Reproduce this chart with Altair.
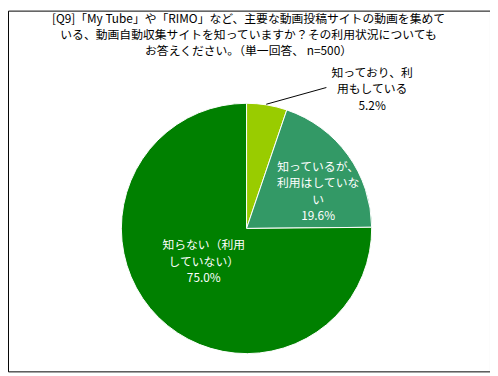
import altair as alt
import pandas as pd

FONT = "Noto Sans CJK JP"

title_lines = [
    "[Q9]「My Tube」や「RIMO」など、主要な動画投稿サイトの動画を集めて",
    "いる、動画自動収集サイトを知っていますか？その利用状況についても",
    "お答えください。（単一回答、 n=500）",
]
categories = [
    "知っており、利用もしている",
    "知っているが、利用はしていない",
    "知らない（利用していない）",
]
values = [5.2, 19.6, 75.0]
label_names = [
    ["知っており、利", "用もしている"],
    ["知っているが、", "利用はしていな", "い"],
    ["知らない（利用", "していない）"],
]
colors = ["#99CC00", "#339966", "#008000"]

labels = ["\n".join(n + [f"{v:.1f}%"]) for n, v in zip(label_names, values)]
df = pd.DataFrame({
    "category": categories,
    "value": values,
    "idx": list(range(len(categories))),
    "label": labels,
})

CX, CY, R = 242, 221, 127
LH = 16.5

base = alt.Chart(df).encode(
    theta=alt.Theta("value:Q", stack=True),
    order=alt.Order("idx:Q"),
)

pie = base.mark_arc(radius=R, stroke="white", strokeWidth=1).encode(
    color=alt.Color("category:N", scale=alt.Scale(domain=categories, range=colors), legend=None),
    x=alt.value(CX),
    y=alt.value(CY),
)


def label_layer(i, radius, dx, dy, color):
    nlines = len(label_names[i]) + 1
    return base.mark_text(
        radius=radius, dx=dx, dy=dy - (nlines - 1) * LH / 2, font=FONT, fontSize=12,
        lineBreak="\n", lineHeight=LH, color=color, align="center", baseline="middle",
    ).encode(
        text=alt.condition(alt.datum.idx == i, alt.Text("label:N"), alt.value("")),
        x=alt.value(CX),
        y=alt.value(CY),
    )


lab1 = label_layer(0, 150, 103, 7, "black")
lab2 = label_layer(1, 81, 7, 10, "white")
lab3 = label_layer(2, 56, -4, -6, "white")

one = pd.DataFrame({"a": [0]})
leader = alt.Chart(one).mark_rule(color="black", strokeWidth=1).encode(
    x=alt.value(CX + 20), y=alt.value(95), x2=alt.value(CX + 81), y2=alt.value(78)
)

title = alt.Chart(pd.DataFrame({"t": ["\n".join(title_lines)]})).mark_text(
    font=FONT, fontSize=12, lineBreak="\n", lineHeight=16, color="black",
    align="center", baseline="top",
).encode(text="t:N", x=alt.value(CX + 2), y=alt.value(4))

chart = alt.layer(pie, leader, lab1, lab2, lab3, title).properties(
    width=489, height=366, autosize=alt.AutoSizeParams(type="none"), padding=0,
).configure_view(stroke="black", strokeWidth=1)

chart.save("out.html", embed_options={"renderer": "svg", "actions": False})
